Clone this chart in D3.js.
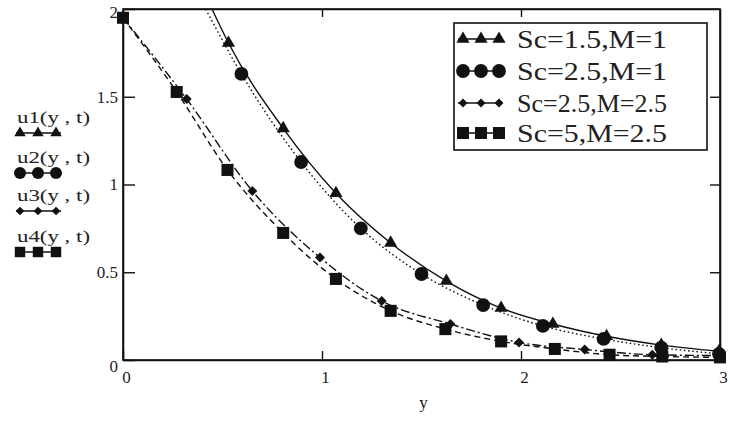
<!DOCTYPE html>
<html>
<head>
<meta charset="utf-8">
<script src="https://cdn.jsdelivr.net/npm/d3@7"></script>
<style>
  body { margin: 0; background: #fff; }
  svg text { font-family: "Liberation Serif", "Times New Roman", serif; fill: #222; }
</style>
</head>
<body>
<div id="canvas"></div>
<script>
"use strict"

// ---- data ----
let xTicks = [0, 1, 2, 3];
let xTickLabels = ["0", "1", "2", "3"];
let yTicks = [0, 0.5, 1, 1.5, 2];
let yTickLabels = ["0", "0.5", "1", "1.5", "2"];

let funcLabels = ["u1(y , t)", "u2(y , t)", "u3(y , t)", "u4(y , t)"];
let legendLabels = ["Sc=1.5,M=1", "Sc=2.5,M=1", "Sc=2.5,M=2.5", "Sc=5,M=2.5"];

// u1: Sc=1.5, M=1 (first point is where the curve leaves the top, no marker)
let u1X = [0.447, 0.53, 0.805, 1.07, 1.345, 1.625, 1.90, 2.16, 2.43, 2.705, 2.995];
let u1Y = [2.0, 1.806, 1.32, 0.95, 0.667, 0.45, 0.296, 0.205, 0.135, 0.085, 0.05];
// u2: Sc=2.5, M=1
let u2X = [0.415, 0.595, 0.895, 1.195, 1.5, 1.81, 2.11, 2.415, 2.705, 2.995];
let u2Y = [2.0, 1.63, 1.128, 0.75, 0.49, 0.313, 0.194, 0.12, 0.07, 0.035];
// u3: Sc=2.5, M=2.5
let u3X = [0, 0.32, 0.65, 0.99, 1.30, 1.645, 1.99, 2.32, 2.66, 3.0];
let u3Y = [1.95, 1.487, 0.963, 0.584, 0.336, 0.205, 0.10, 0.06, 0.03, 0.025];
// u4: Sc=5, M=2.5
let u4X = [0, 0.27, 0.525, 0.805, 1.07, 1.345, 1.62, 1.90, 2.17, 2.445, 2.71, 3.0];
let u4Y = [1.95, 1.527, 1.083, 0.724, 0.462, 0.28, 0.176, 0.106, 0.063, 0.03, 0.02, 0.015];

let markFrom = [1, 1, 0, 0];

// ---- drawing ----
let W = 730, H = 425;
let pLeft = 123, pRight = 720, pTop = 9, pBottom = 360;

let drawing = d3.select("#canvas")
    .append("svg")
    .attr("width", W)
    .attr("height", H);

let x = d3.scaleLinear().domain([0, 3]).range([pLeft, pRight]);
let y = d3.scaleLinear().domain([0, 2]).range([pBottom, pTop]);

let ink = "#111";

// diamond = square turned 45 degrees
let symbols = [
    { type: d3.symbolTriangle, size: 75, rot: 0 },
    { type: d3.symbolCircle, size: 150, rot: 0 },
    { type: d3.symbolSquare, size: 50, rot: 45 },
    { type: d3.symbolSquare, size: 145, rot: 0 }
];
let dashes = [null, "1.6,2.6", "9,3,2,3", "6,4"];

let series = [[u1X, u1Y], [u2X, u2Y], [u3X, u3Y], [u4X, u4Y]].map(function (s, i) {
    return {
        pts: s[0].map(function (v, k) { return [v, s[1][k]]; }),
        sym: symbols[i],
        dash: dashes[i],
        from: markFrom[i]
    };
});

drawing.append("defs").append("clipPath").attr("id", "plot")
    .append("rect")
    .attr("x", pLeft).attr("y", pTop)
    .attr("width", pRight - pLeft).attr("height", pBottom - pTop);

// frame
drawing.append("rect")
    .attr("x", pLeft).attr("y", pTop)
    .attr("width", pRight - pLeft).attr("height", pBottom - pTop)
    .attr("fill", "none").attr("stroke", ink).attr("stroke-width", 1.6);

// axes with inside ticks
let axB = drawing.append("g")
    .attr("transform", `translate(0,${pBottom})`)
    .call(d3.axisBottom(x).tickValues(xTicks).tickSize(-9).tickSizeOuter(0).tickPadding(11)
        .tickFormat(function (d, i) { return xTickLabels[i]; }));

let axL = drawing.append("g")
    .attr("transform", `translate(${pLeft},0)`)
    .call(d3.axisLeft(y).tickValues(yTicks).tickSize(-12).tickSizeOuter(0).tickPadding(5)
        .tickFormat(function (d, i) { return yTickLabels[i]; }));

drawing.append("g")
    .attr("transform", `translate(0,${pTop})`)
    .call(d3.axisTop(x).tickValues([1, 2]).tickSize(-8).tickSizeOuter(0).tickFormat(""));

drawing.append("g")
    .attr("transform", `translate(${pRight},0)`)
    .call(d3.axisRight(y).tickValues([0.5, 1, 1.5]).tickSize(-10).tickSizeOuter(0).tickFormat(""));

drawing.selectAll(".domain").attr("stroke", ink).attr("stroke-width", 1.6);
drawing.selectAll(".tick line").attr("stroke", ink).attr("stroke-width", 1.4);
drawing.selectAll(".tick text")
    .attr("font-family", "'Liberation Serif', serif")
    .attr("font-size", 17)
    .attr("fill", "#222");

axB.selectAll(".tick text").attr("dx", 3);
axL.selectAll(".tick text").filter(function (d) { return d == 0; }).attr("dy", "0.7em");
axL.selectAll(".tick text").filter(function (d) { return d == 2; }).attr("dy", "0.5em");

drawing.append("text")
    .attr("x", (pLeft + pRight) / 2 + 2).attr("y", 408)
    .attr("text-anchor", "middle")
    .attr("font-size", 17)
    .text("y");

// curves
let line = d3.line()
    .x(function (d) { return x(d[0]); })
    .y(function (d) { return y(d[1]); })
    .curve(d3.curveMonotoneX);

let plot = drawing.append("g");

plot.append("g").attr("clip-path", "url(#plot)")
    .selectAll("path")
    .data(series)
    .join("path")
    .attr("d", function (s) { return line(s.pts); })
    .attr("fill", "none")
    .attr("stroke", ink)
    .attr("stroke-width", 1.4)
    .attr("stroke-dasharray", function (s) { return s.dash; });

function marker(sel, sym, scale) {
    sel.attr("d", d3.symbol().type(sym.type).size(sym.size * scale)())
        .attr("fill", ink);
}

series.forEach(function (s) {
    plot.append("g")
        .selectAll("path")
        .data(s.pts.slice(s.from))
        .join("path")
        .attr("transform", function (d) { return `translate(${x(d[0])},${y(d[1])}) rotate(${s.sym.rot})`; })
        .call(marker, s.sym, 1);
});

// legend box
let lg = drawing.append("g");
lg.append("rect")
    .attr("x", 454).attr("y", 23)
    .attr("width", 253).attr("height", 127)
    .attr("fill", "#fff").attr("stroke", ink).attr("stroke-width", 1.6);

let rowY = [39, 71, 103, 133];
series.forEach(function (s, i) {
    let g = lg.append("g").attr("transform", `translate(0,${rowY[i]})`);
    g.append("line")
        .attr("x1", 458).attr("x2", 502)
        .attr("stroke", ink).attr("stroke-width", 1.4);
    [463, 481, 499].forEach(function (px) {
        g.append("path")
            .attr("transform", `translate(${px},0) rotate(${s.sym.rot})`)
            .call(marker, s.sym, i == 2 ? 0.8 : 1);
    });
    g.append("text")
        .attr("x", 517).attr("y", 9)
        .attr("font-size", 26)
        .attr("textLength", 150)
        .attr("lengthAdjust", "spacingAndGlyphs")
        .text(legendLabels[i]);
});

// function labels on the left (Mathcad style)
let fnY = [118, 158, 196, 237];
series.forEach(function (s, i) {
    let g = drawing.append("g").attr("transform", `translate(0,${fnY[i]})`);
    g.append("text")
        .attr("x", 17).attr("y", 5)
        .attr("font-size", 17)
        .attr("textLength", 73)
        .attr("lengthAdjust", "spacingAndGlyphs")
        .text(funcLabels[i]);
    let my = 15;
    g.append("line")
        .attr("x1", 16).attr("x2", 61).attr("y1", my).attr("y2", my)
        .attr("stroke", ink).attr("stroke-width", 1.3);
    [20, 38, 56].forEach(function (px) {
        g.append("path")
            .attr("transform", `translate(${px},${my}) rotate(${s.sym.rot})`)
            .call(marker, s.sym, 0.75);
    });
});
</script>
</body>
</html>
